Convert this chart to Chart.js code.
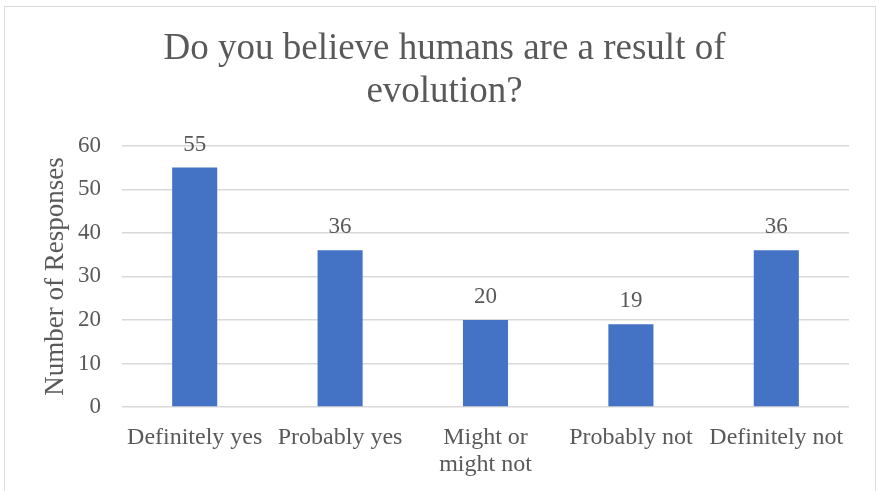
<!DOCTYPE html>
<html>
<head>
<meta charset="utf-8">
<script src="https://cdn.jsdelivr.net/npm/chart.js@4"></script>
<style>
  html, body { margin: 0; padding: 0; background: #fff; }
  #wrap { position: relative; width: 878px; height: 491px; overflow: hidden; }
  #frame {
    position: absolute; left: 4px; top: 6px; width: 872px; height: 500px;
    border: 1px solid #d9d9d9; box-sizing: border-box;
  }
  canvas { position: absolute; left: 0; top: 0; }
</style>
</head>
<body>
<div id="wrap">
  <div id="frame"></div>
  <canvas id="evolution" width="878" height="491"></canvas>
</div>
<script>
// Survey answers and response counts
const categories = ["Definitely yes", "Probably yes", ["Might or", "might not"], "Probably not", "Definitely not"];
const responses = [55, 36, 20, 19, 36];
const yTicks = [0, 10, 20, 30, 40, 50, 60];

const grey = "#595959";
const serif = "'Liberation Serif', 'Times New Roman', serif";

// Prints the count above each bar
const barValues = {
  id: "barValues",
  afterDatasetsDraw(chart) {
    const ctx = chart.ctx;
    const meta = chart.getDatasetMeta(0);
    ctx.save();
    ctx.font = "23px " + serif;
    ctx.fillStyle = grey;
    ctx.textAlign = "center";
    ctx.textBaseline = "alphabetic";
    meta.data.forEach((bar, i) => {
      ctx.fillText(String(responses[i]), bar.x, bar.y - 17);
    });
    ctx.restore();
  },
};

const ctx = document.getElementById("evolution").getContext("2d");
new Chart(ctx, {
  type: "bar",
  data: {
    labels: categories,
    datasets: [
      {
        label: "Number of Responses",
        data: responses,
        backgroundColor: "#4472C4",
        borderWidth: 0,
        categoryPercentage: 1,
        barPercentage: 0.31,
      },
    ],
  },
  options: {
    responsive: false,
    animation: false,
    layout: { padding: { left: 40, right: 29, top: 6, bottom: 0 } },
    plugins: {
      legend: { display: false },
      tooltip: { enabled: false },
      title: {
        display: true,
        text: ["Do you believe humans are a result of", "evolution?"],
        color: grey,
        font: { family: serif, size: 37, weight: "normal", lineHeight: 1.16 },
        padding: { top: 22, bottom: 32 },
      },
    },
    scales: {
      x: {
        grid: { display: false },
        border: { display: false },
        ticks: {
          color: grey,
          font: { family: serif, size: 24, lineHeight: 1.1 },
          padding: 10,
          maxRotation: 0,
          autoSkip: false,
        },
        afterFit(scale) {
          scale.height = 84;
        },
      },
      y: {
        min: 0,
        max: 60,
        afterBuildTicks(scale) {
          scale.ticks = yTicks.map((v) => ({ value: v }));
        },
        grid: { color: "#d9d9d9", lineWidth: 1.5, drawTicks: false },
        border: { display: false },
        ticks: {
          color: grey,
          font: { family: serif, size: 23 },
          padding: 21,
        },
        title: {
          display: true,
          text: "Number of Responses",
          color: grey,
          font: { family: serif, size: 27 },
          padding: 0,
        },
        afterFit(scale) {
          scale.width = 82;
        },
      },
    },
  },
  plugins: [barValues],
});
</script>
</body>
</html>
